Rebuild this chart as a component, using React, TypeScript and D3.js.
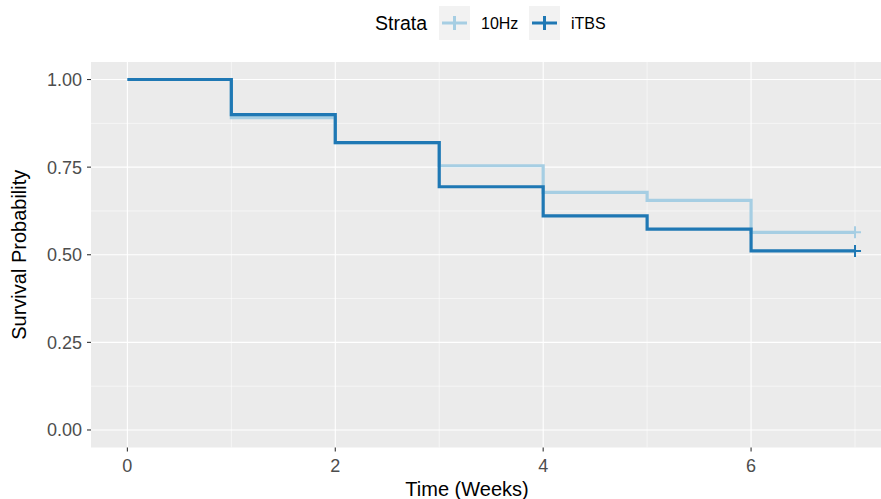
import React, { useEffect, useRef } from 'react';
import * as d3 from 'd3';

// step survival curves
const times = [0, 1, 2, 3, 4, 5, 6, 7];
const surv10Hz = [1.0, 0.891, 0.82, 0.754, 0.678, 0.655, 0.564, 0.564];
const survITBS = [1.0, 0.9, 0.82, 0.694, 0.611, 0.573, 0.511, 0.511];
const strata = ['10Hz', 'iTBS'];
const colors = ['#a6cee3', '#1f78b4'];
const xTicks = [0, 2, 4, 6];
const xMinor = [1, 3, 5, 7];
const yTicks = [0, 0.25, 0.5, 0.75, 1];
const yMinor = [0.125, 0.375, 0.625, 0.875];

const W = 881;
const H = 499;
const font = "'Liberation Sans', Arial, Helvetica, sans-serif";

const App = () => {
  const svgRef = useRef<SVGSVGElement>(null);

  useEffect(() => {
    const svg = d3.select(svgRef.current);
    svg.selectAll('*').remove();

    const left = 91, top = 62, bottom = 447.5, right = 891.4;
    const x = d3.scaleLinear().domain([-0.35, 7.35]).range([left, right]);
    const y = d3.scaleLinear().domain([-0.05, 1.05]).range([bottom, top]);

    svg.append('rect')
      .attr('x', left).attr('y', top)
      .attr('width', right - left).attr('height', bottom - top)
      .attr('fill', '#ebebeb');

    // minor grid
    svg.selectAll('.xminor').data(xMinor).enter().append('line')
      .attr('x1', d => x(d)).attr('x2', d => x(d))
      .attr('y1', top).attr('y2', bottom)
      .attr('stroke', 'white').attr('stroke-width', 0.55);
    svg.selectAll('.yminor').data(yMinor).enter().append('line')
      .attr('y1', d => y(d)).attr('y2', d => y(d))
      .attr('x1', left).attr('x2', right)
      .attr('stroke', 'white').attr('stroke-width', 0.55);
    // major grid
    svg.selectAll('.xmajor').data(xTicks).enter().append('line')
      .attr('x1', d => x(d)).attr('x2', d => x(d))
      .attr('y1', top).attr('y2', bottom)
      .attr('stroke', 'white').attr('stroke-width', 1.1);
    svg.selectAll('.ymajor').data(yTicks).enter().append('line')
      .attr('y1', d => y(d)).attr('y2', d => y(d))
      .attr('x1', left).attr('x2', right)
      .attr('stroke', 'white').attr('stroke-width', 1.1);

    // curves
    const line = d3.line<number>()
      .x((d, i) => x(times[i]))
      .y(d => y(d))
      .curve(d3.curveStepAfter);

    [surv10Hz, survITBS].forEach((s, k) => {
      svg.append('path')
        .datum(s)
        .attr('d', line)
        .attr('fill', 'none')
        .attr('stroke', colors[k])
        .attr('stroke-width', 3.2)
        .attr('stroke-linejoin', 'miter');
      // censor mark at the end
      const cx = x(times[times.length - 1]);
      const cy = y(s[s.length - 1]);
      svg.append('path')
        .attr('d', `M${cx - 6},${cy}H${cx + 6}M${cx},${cy - 6}V${cy + 6}`)
        .attr('stroke', colors[k])
        .attr('stroke-width', 2);
    });

    // y axis
    const yAxis = svg.append('g');
    yTicks.forEach(t => {
      yAxis.append('line')
        .attr('x1', left - 4).attr('x2', left)
        .attr('y1', y(t)).attr('y2', y(t))
        .attr('stroke', '#333333').attr('stroke-width', 1.1);
      yAxis.append('text')
        .attr('x', left - 9).attr('y', y(t))
        .attr('dy', '0.36em')
        .attr('text-anchor', 'end')
        .attr('fill', '#4d4d4d')
        .style('font-family', font)
        .style('font-size', '18px')
        .text(d3.format('.2f')(t));
    });

    // x axis
    const xAxis = svg.append('g');
    xTicks.forEach(t => {
      xAxis.append('line')
        .attr('x1', x(t)).attr('x2', x(t))
        .attr('y1', bottom).attr('y2', bottom + 4)
        .attr('stroke', '#333333').attr('stroke-width', 1.1);
      xAxis.append('text')
        .attr('x', x(t)).attr('y', 472)
        .attr('text-anchor', 'middle')
        .attr('fill', '#4d4d4d')
        .style('font-family', font)
        .style('font-size', '18px')
        .text(t);
    });

    svg.append('text')
      .attr('x', 467).attr('y', 496)
      .attr('text-anchor', 'middle')
      .style('font-family', font)
      .style('font-size', '20px')
      .text('Time (Weeks)');

    svg.append('text')
      .attr('transform', `translate(26, ${(top + bottom) / 2}) rotate(-90)`)
      .attr('text-anchor', 'middle')
      .style('font-family', font)
      .style('font-size', '20px')
      .text('Survival Probability');

    // legend
    const legend = svg.append('g');
    legend.append('text')
      .attr('x', 375).attr('y', 23)
      .attr('dy', '0.36em')
      .style('font-family', font)
      .style('font-size', '19.5px')
      .text('Strata');

    const keyX = [439, 529];
    strata.forEach((s, i) => {
      const kx = keyX[i];
      legend.append('rect')
        .attr('x', kx).attr('y', 6)
        .attr('width', 31).attr('height', 34)
        .attr('fill', '#f2f2f2');
      legend.append('path')
        .attr('d', `M${kx + 3},23H${kx + 28}M${kx + 15.5},16V30`)
        .attr('stroke', colors[i])
        .attr('stroke-width', 3);
      legend.append('text')
        .attr('x', kx + 42).attr('y', 23)
        .attr('dy', '0.36em')
        .style('font-family', font)
        .style('font-size', '16px')
        .text(s);
    });
  }, []);

  return (
    <svg ref={svgRef} width={W} height={H} viewBox={`0 0 ${W} ${H}`}
      style={{ position: 'absolute', left: 0, top: 0, background: 'white' }}>
    </svg>
  );
};

export default App;
